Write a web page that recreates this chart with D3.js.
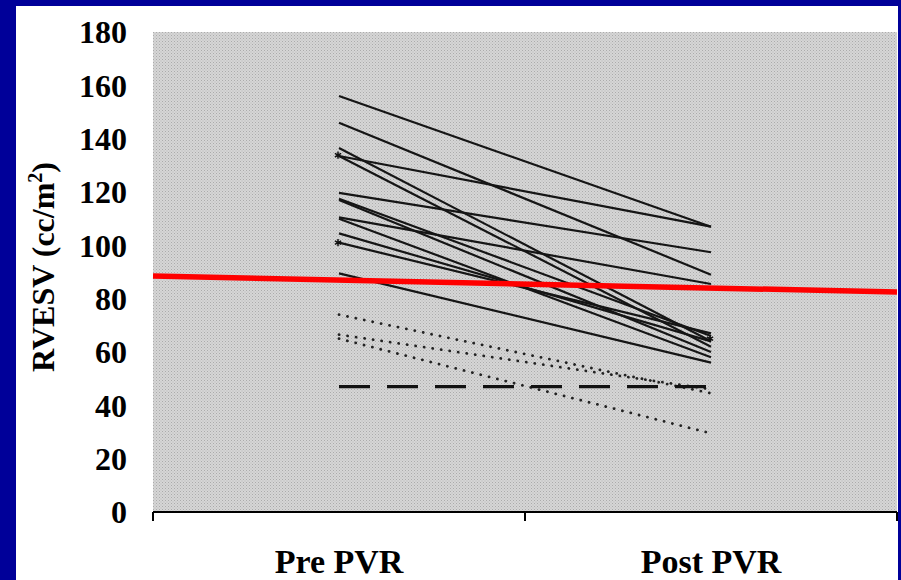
<!DOCTYPE html>
<html>
<head>
<meta charset="utf-8">
<script src="https://cdn.jsdelivr.net/npm/d3@7"></script>
<style>
  body { margin: 0; background: #000099; }
  text { font-family: "Liberation Serif", "Times New Roman", serif; font-weight: bold; fill: #000; }
</style>
</head>
<body>
<svg id="chart" width="901" height="580"></svg>
<script>
// categories and tick values
const categories = ["Pre PVR", "Post PVR"];
const yTicks = [0, 20, 40, 60, 80, 100, 120, 140, 160, 180];

// solid lines: each patient, pre value -> post value
const solidPre  = [156, 146, 136.5, 133.5, 133.5, 119.7, 117.5, 117, 110.5, 110, 104.5, 101, 89.5];
const solidPost = [107,  89,  64,   107,    62,    97.4,  66,    60,  85.5,  58,  64,    67,  56];

// dotted lines
const dottedPre  = [74, 66.5, 65];
const dottedPost = [44.5, 46, 29.5];

// dashed line
const dashedPre  = [47];
const dashedPost = [47];

// red reference line, value at left and right edge of the plot
const redLine = [88.5, 82.5];

// asterisk markers [category, value]
const markers = [["Pre PVR", 101], ["Pre PVR", 133.8], ["Post PVR", 65]];

let svg = d3.select("#chart"),
    width = +svg.attr("width"),
    height = +svg.attr("height");

// Define margins of the plot area
const margin = { top: 32, right: 4, bottom: 68, left: 153 };
const plotW = width - margin.left - margin.right,
      plotH = height - margin.top - margin.bottom;

// blue frame + white panel
svg.append("rect").attr("width", width).attr("height", height).attr("fill", "#000099");
svg.append("rect").attr("x", 16).attr("y", 6).attr("width", 882).attr("height", height - 6).attr("fill", "#fff");

let x = d3.scaleBand().domain(categories).range([0, plotW]).padding(0),
    y = d3.scaleLinear().domain([0, 180]).range([plotH, 0]);

let g = svg.append("g").attr("transform", "translate(" + margin.left + "," + margin.top + ")");

// gray stippled background
let defs = svg.append("defs");
let pat = defs.append("pattern").attr("id", "stipple")
              .attr("width", 3).attr("height", 3).attr("patternUnits", "userSpaceOnUse");
pat.append("rect").attr("width", 3).attr("height", 3).attr("fill", "#d6d6d6");
pat.append("rect").attr("width", 1).attr("height", 1).attr("fill", "#ababab");
pat.append("rect").attr("x", 1.5).attr("y", 1.5).attr("width", 1).attr("height", 1).attr("fill", "#b8b8b8");

g.append("rect")
  .attr("width", plotW)
  .attr("height", plotH)
  .attr("fill", "url(#stipple)");

let cx = (c) => x(c) + x.bandwidth() / 2;

// y tick labels (no axis line)
g.selectAll(".ytick")
  .data(yTicks)
  .enter().append("text")
  .attr("class", "ytick")
  .attr("x", -26)
  .attr("y", (d) => y(d))
  .attr("dy", "0.35em")
  .attr("text-anchor", "end")
  .style("font-size", "32px")
  .text((d) => d);

// y title
svg.append("text")
  .attr("transform", "translate(54," + (margin.top + plotH / 2 - 5) + ") rotate(-90)")
  .attr("text-anchor", "middle")
  .style("font-size", "32px")
  .html('RVESV (cc/m<tspan dy="-12" style="font-size:20px">2</tspan><tspan dy="12">)</tspan>');

// x axis line and boundary ticks
g.append("line")
  .attr("x1", 0).attr("x2", plotW)
  .attr("y1", y(0)).attr("y2", y(0))
  .attr("stroke", "#000").attr("stroke-width", 2);

let bounds = categories.map((c) => x(c)).concat([x(categories[categories.length - 1]) + x.bandwidth()]);
g.selectAll(".xtick")
  .data(bounds)
  .enter().append("line")
  .attr("x1", (d) => d).attr("x2", (d) => d)
  .attr("y1", y(0)).attr("y2", y(0) + 9)
  .attr("stroke", "#000").attr("stroke-width", 2);

g.selectAll(".xlabel")
  .data(categories)
  .enter().append("text")
  .attr("x", (d) => cx(d))
  .attr("y", plotH + 61)
  .attr("text-anchor", "middle")
  .style("font-size", "34px")
  .text((d) => d);

let pairLine = (pre, post) => [[cx(categories[0]), y(pre)], [cx(categories[1]), y(post)]];

// solid lines
g.selectAll(".solid")
  .data(solidPre.map((v, i) => pairLine(v, solidPost[i])))
  .enter().append("path")
  .attr("d", d3.line())
  .attr("fill", "none")
  .attr("stroke", "#151515")
  .attr("stroke-width", 2.2);

// dotted lines
g.selectAll(".dotted")
  .data(dottedPre.map((v, i) => pairLine(v, dottedPost[i])))
  .enter().append("path")
  .attr("d", d3.line())
  .attr("fill", "none")
  .attr("stroke", "#222")
  .attr("stroke-width", 2.8)
  .attr("stroke-linecap", "round")
  .attr("stroke-dasharray", "0.1 8.5");

// dashed line
g.selectAll(".dashed")
  .data(dashedPre.map((v, i) => pairLine(v, dashedPost[i])))
  .enter().append("path")
  .attr("d", d3.line())
  .attr("fill", "none")
  .attr("stroke", "#111")
  .attr("stroke-width", 3.2)
  .attr("stroke-dasharray", "31 17");

// asterisk markers
g.selectAll(".marker")
  .data(markers)
  .enter().append("path")
  .attr("transform", (d) => "translate(" + (cx(d[0]) - 1) + "," + y(d[1]) + ")")
  .attr("d", d3.symbol(d3.symbolAsterisk, 36))
  .attr("fill", "none")
  .attr("stroke", "#111")
  .attr("stroke-width", 1.5);

// red reference line across the full plot
g.append("line")
  .attr("x1", 0).attr("x2", plotW)
  .attr("y1", y(redLine[0])).attr("y2", y(redLine[1]))
  .attr("stroke", "#ff0000")
  .attr("stroke-width", 5.5);
</script>
</body>
</html>
